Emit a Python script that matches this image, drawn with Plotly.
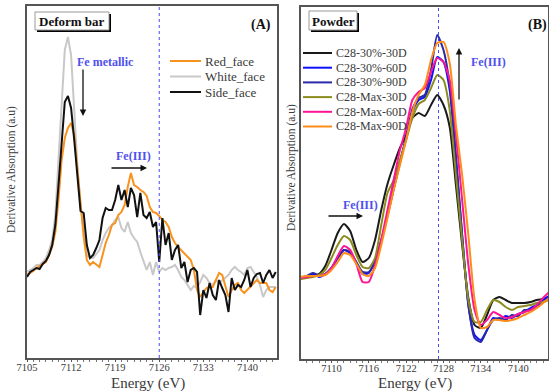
import plotly.graph_objects as go

W, H = 549, 391

# ---------------- Panel A data (Deform bar) ----------------
energy_a = [7105 + 0.5 * k for k in range(80)]
red_face = [83, 85, 87, 90, 92, 94, 96, 103, 111, 126, 158, 198, 220, 230, 235, 223, 188, 153, 121, 98,
            93, 96, 93, 91, 103, 115, 123, 133, 135, 143, 146, 153, 171, 185, 173, 171, 168, 166, 162, 151,
            146, 145, 142, 138, 136, 131, 121, 115, 111, 108, 105, 101, 98, 88, 68, 61, 65, 70, 71, 71,
            78, 85, 83, 73, 61, 68, 73, 75, 68, 65, 68, 71, 74, 78, 75, 75, 75, 68, 66, 71]
white_face = [86, 88, 90, 93, 93, 96, 100, 108, 118, 143, 198, 263, 308, 321, 303, 248, 193, 153, 128, 103,
              100, 100, 104, 108, 118, 125, 130, 133, 138, 141, 130, 126, 136, 125, 120, 116, 106, 96, 88, 96,
              83, 96, 86, 90, 88, 90, 91, 93, 88, 81, 78, 73, 68, 72, 70, 76, 83, 80, 75, 73,
              78, 75, 78, 80, 83, 88, 91, 88, 86, 83, 90, 91, 86, 81, 73, 61, 68, 71, 71, 71]
side_face = [81, 86, 88, 90, 89, 94, 97, 103, 113, 133, 173, 218, 256, 262, 250, 218, 178, 147, 145, 113,
             100, 103, 110, 118, 140, 150, 148, 148, 158, 173, 158, 168, 151, 170, 163, 141, 165, 143, 140, 146,
             131, 136, 96, 140, 113, 125, 98, 108, 113, 90, 96, 76, 88, 90, 86, 43, 68, 60, 75, 63,
             58, 78, 70, 63, 46, 80, 68, 73, 71, 78, 88, 71, 80, 84, 85, 75, 83, 88, 80, 86]
names_a = ["Red_face", "White_face", "Side_face"]
colors_a = ["#f7931e", "#c8c8c8", "#111111"]
series_a = [red_face, white_face, side_face]
ticks_a = [7105, 7112, 7119, 7126, 7133, 7140]
ref_line_a = 7126

# ---------------- Panel B data (Powder) ----------------
energy_b = list(range(7105, 7146))
c30_30 = [81, 82, 83, 85, 93, 109, 126, 135, 128, 109, 97, 101, 119, 149, 175, 194, 211, 224, 241, 246,
          243, 254, 264, 254, 232, 174, 114, 61, 34, 31, 44, 59, 62, 59, 56, 56, 56, 57, 59, 60, 62]
c30_60 = [81, 82, 85, 82, 85, 91, 101, 109, 106, 96, 85, 86, 99, 119, 144, 171, 197, 221, 247, 259,
          262, 279, 302, 297, 269, 199, 124, 54, 24, 19, 29, 41, 39, 43, 41, 45, 47, 51, 54, 59, 63]
c30_90 = [81, 83, 86, 84, 85, 91, 101, 109, 107, 97, 87, 87, 97, 118, 143, 170, 196, 222, 250, 261,
          264, 289, 324, 309, 274, 204, 124, 54, 21, 17, 29, 39, 41, 39, 44, 43, 49, 49, 53, 57, 61]
max_30 = [80, 81, 82, 84, 89, 101, 114, 123, 119, 104, 92, 91, 101, 134, 166, 179, 199, 219, 241, 255,
          259, 271, 284, 279, 249, 184, 119, 59, 37, 37, 49, 59, 57, 52, 49, 52, 53, 54, 56, 57, 59]
max_60 = [81, 82, 83, 83, 85, 91, 103, 113, 109, 95, 77, 77, 94, 119, 149, 179, 209, 231, 259, 267,
          271, 287, 301, 297, 279, 224, 159, 94, 49, 34, 39, 47, 44, 41, 42, 45, 47, 49, 54, 61, 67]
max_90 = [82, 83, 83, 83, 84, 89, 97, 106, 104, 95, 85, 83, 91, 114, 141, 169, 194, 219, 247, 264,
          274, 299, 316, 317, 296, 234, 184, 124, 59, 31, 32, 39, 39, 38, 39, 41, 44, 47, 51, 56, 61]
names_b = ["C28-30%-30D", "C28-30%-60D", "C28-30%-90D", "C28-Max-30D", "C28-Max-60D", "C28-Max-90D"]
colors_b = ["#1a1a1a", "#1010ff", "#2a2aa8", "#8c8c1e", "#ff1493", "#ff8c1a"]
series_b = [c30_30, c30_60, c30_90, max_30, max_60, max_90]
ticks_b = [7110, 7116, 7122, 7128, 7134, 7140]
ref_line_b = 7127.2

# ---------------- helpers (pixel -> paper) ----------------
def px(x):
    return x / W

def py(y):
    return 1 - y / H

SERIF = "Liberation Serif"
TXT = "#3a3a3a"
BLUE_TXT = "#5050f0"

fig = go.Figure()

order_a = [1, 0, 2]  # white drawn underneath
for i in order_a:
    fig.add_trace(go.Scatter(x=energy_a, y=series_a[i], mode="lines", name=names_a[i],
                             line=dict(color=colors_a[i], width=2), xaxis="x", yaxis="y",
                             showlegend=False))

for name, col, vals in zip(names_b, colors_b, series_b):
    fig.add_trace(go.Scatter(x=energy_b, y=vals, mode="lines", name=name,
                             line=dict(color=col, width=2, shape="spline", smoothing=0.6),
                             xaxis="x2", yaxis="y2", showlegend=False))

axis_common = dict(showline=True, linecolor="#555555", linewidth=1.5, mirror=True,
                   showgrid=False, zeroline=False, automargin=False)
xtick_common = dict(ticks="outside", ticklen=2, tickcolor="#555555", ticklabelstandoff=-3,
                    tickfont=dict(family=SERIF, size=10.5, color=TXT),
                    minor=dict(dtick=1, ticks="outside", ticklen=2, tickcolor="#777777"))

fig.update_layout(
    width=W, height=H, margin=dict(l=0, r=0, t=0, b=0, autoexpand=False),
    paper_bgcolor="white", plot_bgcolor="white", showlegend=False,
    font=dict(family=SERIF, color=TXT),
    xaxis=dict(domain=[px(27), px(277)], range=[7105, 7144.7], tickvals=ticks_a,
               anchor="y", **xtick_common, **axis_common),
    yaxis=dict(domain=[py(358), py(6)], range=[0, 352], showticklabels=False, ticks="",
               anchor="x", **axis_common),
    xaxis2=dict(domain=[px(301), px(548)], range=[7105.1, 7144.8], tickvals=ticks_b,
                anchor="y2", **xtick_common, **axis_common),
    yaxis2=dict(domain=[py(359), py(7)], range=[0, 352], showticklabels=False, ticks="",
                anchor="x2", **axis_common),
)

shapes = []
annotations = []

# reference dotted lines
shapes.append(dict(type="line", xref="x", yref="y domain", x0=ref_line_a, x1=ref_line_a, y0=0, y1=1,
                   line=dict(color="#4a4aff", width=1, dash="dot")))
shapes.append(dict(type="line", xref="x2", yref="y2 domain", x0=ref_line_b, x1=ref_line_b, y0=0, y1=1,
                   line=dict(color="#4a4aff", width=1, dash="dot")))

def text(t, x, y, size=13, color=TXT, bold=False, angle=0, xanchor="center"):
    annotations.append(dict(text=("<b>%s</b>" % t) if bold else t, xref="paper", yref="paper",
                            x=px(x), y=py(y), xanchor=xanchor, yanchor="middle",
                            showarrow=False, textangle=angle,
                            font=dict(family=SERIF, size=size, color=color)))

# title boxes with shadow
def box(label, x0, y0, x1, y1):
    shapes.append(dict(type="rect", xref="paper", yref="paper", x0=px(x0 + 2), x1=px(x1 + 2),
                       y0=py(y1 + 2), y1=py(y0 + 2), fillcolor="black", line=dict(width=0)))
    shapes.append(dict(type="rect", xref="paper", yref="paper", x0=px(x0), x1=px(x1),
                       y0=py(y1), y1=py(y0), fillcolor="white", line=dict(color="#999999", width=1)))
    text(label, (x0 + x1) / 2, (y0 + y1) / 2 + 1, 13, "#111111", True)

box("Deform bar", 35, 12, 109, 30)
box("Powder", 309, 11, 357, 30)

def arrow(x, y, dx, dy):
    annotations.append(dict(text="", xref="paper", yref="paper", x=px(x), y=py(y),
                            ax=-dx, ay=-dy, showarrow=True, arrowhead=2, arrowsize=1,
                            arrowwidth=1.3, arrowcolor="#111111"))

text("(A)", 261, 25, 14, "#111111", True)
text("(B)", 537, 25, 14, "#111111", True)

text("Fe metallic", 105, 62, 12, BLUE_TXT, True)
arrow(83, 116, 0, 48)
text("Fe(III)", 133, 156, 12, BLUE_TXT, True)
arrow(147, 168, 37, 0)

text("Fe(III)", 488, 62, 12, BLUE_TXT, True)
arrow(459, 48, 0, -53)
text("Fe(III)", 360, 205, 12, BLUE_TXT, True)
arrow(363, 216, 36, 0)

# axis titles
text("Energy (eV)", 148, 383, 15)
text("Energy (eV)", 415, 383, 15)
text("Derivative Absorption (a.u)", 12, 170, 11.5, angle=-90)
text("Derivative Absorption (a.u)", 291, 168, 11.5, angle=-90)

# compact legends as in the reference
def legend(names, colors, x_line0, x_line1, y0, step, size):
    for i, (n, c) in enumerate(zip(names, colors)):
        yy = y0 + i * step
        shapes.append(dict(type="line", xref="paper", yref="paper", x0=px(x_line0), x1=px(x_line1),
                           y0=py(yy), y1=py(yy), line=dict(color=c, width=2)))
        text(n, x_line1 + 2, yy, size, TXT, xanchor="left")

legend(names_a, colors_a, 170, 201, 61, 15.5, 13)
legend(names_b, colors_b, 303, 332, 53, 14.7, 12)

fig.update_layout(shapes=shapes, annotations=annotations)
fig.write_html("out.html")
